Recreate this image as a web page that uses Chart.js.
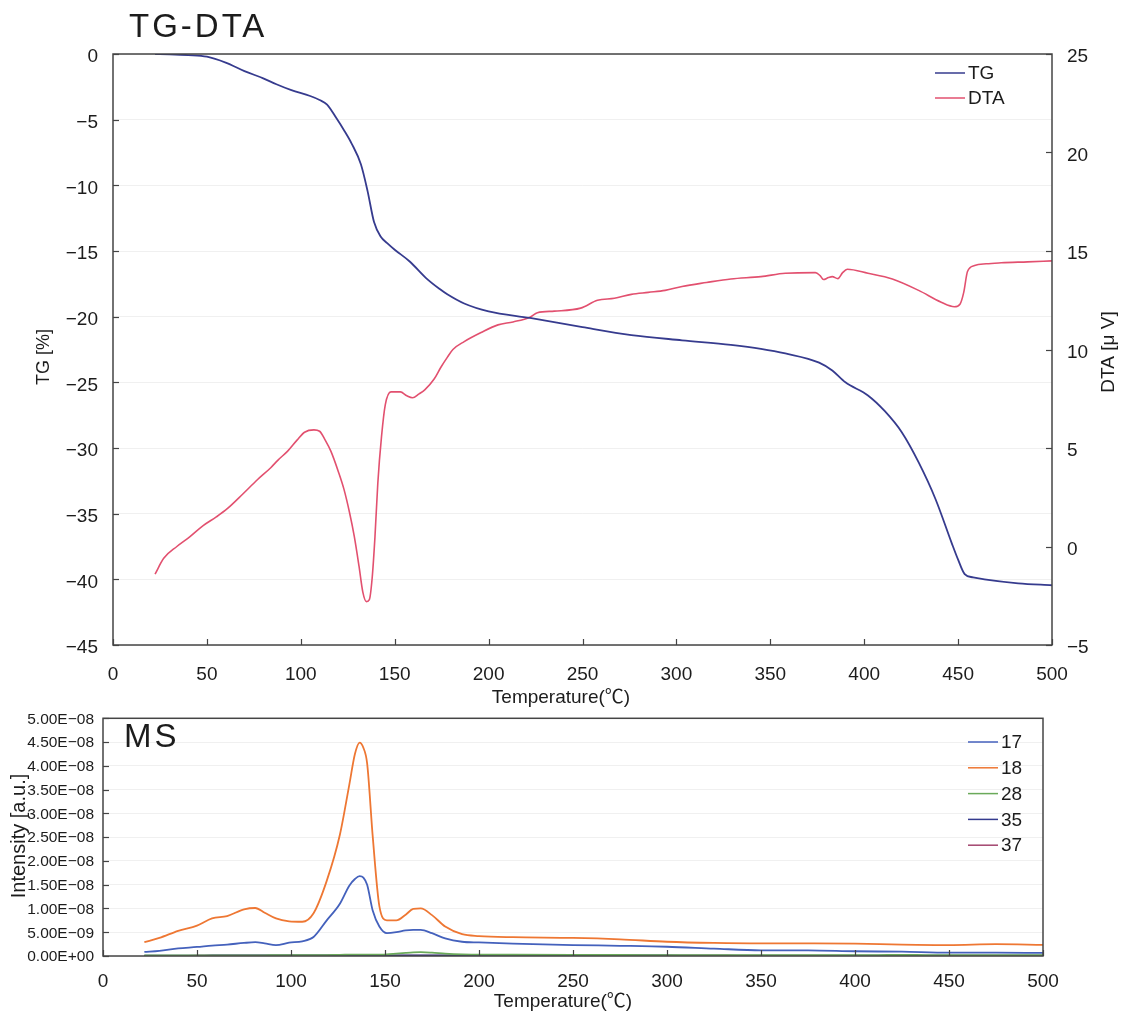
<!DOCTYPE html>
<html>
<head>
<meta charset="utf-8">
<title>TG-DTA / MS</title>
<script src="https://cdn.jsdelivr.net/npm/chart.js@4.4.1/dist/chart.umd.min.js"></script>
<style>
    body { margin: 0; background: #fff; }
    #wrap { position: relative; width: 1127px; height: 1021px; }
    canvas { position: absolute; left: 0; }
    #tgdta { top: 0; }
    #ms { top: 700px; }
</style>
</head>
<body>
<div id="wrap">
    <canvas id="tgdta" width="1127" height="715"></canvas>
    <canvas id="ms" width="1127" height="321"></canvas>
</div>
<script>
    // TG curve: temperature (°C) and mass change (%)
    const tgTemp = [22.4, 30, 40, 50, 60, 70, 80, 87, 95, 105, 110, 114, 119, 123, 127, 132, 135.5, 139, 142.5, 146,
        150, 158, 167, 174, 178, 187, 200, 222, 250, 276, 303, 329, 345, 358, 376, 383, 390, 402, 411, 420,
        429, 438, 446.5, 450, 453.5, 458, 464, 482, 500];
    const tgValue = [0, -0.02, -0.08, -0.2, -0.65, -1.3, -1.85, -2.3, -2.75, -3.2, -3.5, -3.85, -4.9, -5.8, -6.8, -8.4, -10.4, -12.8, -13.9, -14.4,
        -14.9, -15.8, -17.1, -17.9, -18.3, -19.0, -19.6, -20.1, -20.8, -21.4, -21.8, -22.15, -22.45, -22.8, -23.5, -24.1, -25.0, -26.0, -27.2, -28.8,
        -31.1, -33.9, -37.2, -38.5, -39.6, -39.85, -40.0, -40.3, -40.45];

    // DTA curve: temperature (°C) and signal (μV)
    const dtaTemp = [22.4, 27, 34, 41, 48, 55, 61, 69, 77, 84, 88, 93, 98, 102, 107, 110, 113, 116, 120, 123,
        126, 128.5, 131, 133, 135, 136.5, 138, 139.5, 141, 143, 145, 148, 153, 156.5, 159.5, 163, 166, 171, 174.6, 178,
        181, 187, 196, 205, 213, 222, 226, 235, 249, 258, 267, 276, 285, 294, 303, 316, 329, 345, 358, 374,
        376.5, 378.3, 381, 383, 386, 388.5, 391, 402, 415, 429, 441, 448, 451, 453, 455, 458.8, 465, 473, 487, 500];
    const dtaValue = [-1.4, -0.6, 0.0, 0.5, 1.06, 1.5, 1.93, 2.65, 3.4, 4.0, 4.4, 4.84, 5.4, 5.8, 5.92, 5.85, 5.4, 4.84, 3.8, 2.9,
        1.7, 0.5, -1.0, -2.3, -2.8, -2.7, -1.6, 0.5, 3.2, 5.6, 7.2, 7.85, 7.85, 7.65, 7.55, 7.75, 7.95, 8.5, 9.1, 9.6,
        10.0, 10.4, 10.86, 11.25, 11.4, 11.64, 11.87, 11.95, 12.1, 12.5, 12.6, 12.8, 12.9, 13.0, 13.2, 13.4, 13.58, 13.7, 13.87, 13.9,
        13.75, 13.55, 13.65, 13.7, 13.6, 13.9, 14.07, 13.87, 13.58, 13.0, 12.4, 12.17, 12.3, 12.9, 13.96, 14.26, 14.35, 14.4, 14.45, 14.5];

    // MS ion currents (x1e-9) for m/z 17, 18, 28, 35, 37
    const msTemp = [22, 30, 40, 50, 58, 66, 75, 81, 86, 92, 99, 106, 112, 119, 126, 131, 134, 136.5, 138.5, 140.5,
        143.5, 147, 151, 156, 161, 165, 169, 175, 182, 191, 200, 218, 250, 275, 300, 325, 350, 375, 400, 425,
        450, 475, 500];
    const ms17 = [0.85, 1.1, 1.6, 1.9, 2.2, 2.4, 2.75, 2.9, 2.65, 2.3, 2.8, 3.1, 4.0, 7.5, 11.0, 14.8, 16.2, 16.8, 16.5, 15.0,
        9.5, 6.2, 4.8, 5.0, 5.4, 5.5, 5.5, 4.8, 3.7, 3.0, 2.85, 2.6, 2.3, 2.15, 1.95, 1.55, 1.2, 1.2, 1.0, 0.9,
        0.7, 0.7, 0.65];
    const ms18 = [2.9, 3.8, 5.3, 6.4, 7.9, 8.4, 9.8, 10.1, 9.1, 7.9, 7.3, 7.2, 9.0, 15.8, 25.5, 36, 42.5, 44.9, 43.8, 40.5,
        25, 10.5, 7.5, 7.5, 8.7, 9.9, 10.0, 8.6, 6.2, 4.6, 4.2, 3.95, 3.8, 3.5, 3.0, 2.75, 2.65, 2.65, 2.6, 2.4,
        2.3, 2.5, 2.35];
    const ms28 = [0.12, 0.12, 0.13, 0.13, 0.14, 0.14, 0.15, 0.15, 0.15, 0.16, 0.16, 0.16, 0.17, 0.2, 0.25, 0.28, 0.3, 0.31, 0.3, 0.3,
        0.29, 0.3, 0.35, 0.5, 0.65, 0.75, 0.8, 0.7, 0.5, 0.35, 0.3, 0.26, 0.22, 0.21, 0.2, 0.2, 0.19, 0.2, 0.2, 0.21,
        0.2, 0.2, 0.19];
    const ms35 = [0.08, 0.08, 0.09, 0.09, 0.1, 0.1, 0.1, 0.11, 0.1, 0.1, 0.11, 0.11, 0.12, 0.14, 0.16, 0.18, 0.19, 0.2, 0.19, 0.18,
        0.15, 0.13, 0.12, 0.12, 0.12, 0.13, 0.13, 0.12, 0.12, 0.11, 0.11, 0.1, 0.1, 0.1, 0.1, 0.09, 0.09, 0.09, 0.09, 0.09,
        0.08, 0.08, 0.08];
    const ms37 = [0.04, 0.04, 0.04, 0.05, 0.05, 0.05, 0.05, 0.05, 0.05, 0.05, 0.05, 0.05, 0.06, 0.06, 0.07, 0.08, 0.08, 0.09, 0.08, 0.08,
        0.07, 0.06, 0.06, 0.06, 0.06, 0.06, 0.06, 0.06, 0.05, 0.05, 0.05, 0.05, 0.05, 0.05, 0.05, 0.05, 0.04, 0.04, 0.04, 0.04,
        0.04, 0.04, 0.04];
    const msLabels = ['17', '18', '28', '35', '37'];
    const msColors = ['#4461bc', '#ee7733', '#6aaa5a', '#343a8e', '#a3456e'];

    const FONT = "'Liberation Sans', 'Noto Sans CJK JP', sans-serif";
    const INK = '#1c1c1c';

    function toPoints(xs, ys, unit) {
        return xs.map((x, i) => ({ x: x, y: ys[i] * (unit || 1) }));
    }

    function minus(v) {
        return String(v).replace('-', '\u2212');
    }

    // 5.00E-08 style labels
    function sciLabel(v) {
        if (Math.abs(v) < 1e-15) return '0.00E+00';
        const parts = v.toExponential(2).split('e');
        const exp = parseInt(parts[1], 10);
        return parts[0] + 'E' + (exp < 0 ? '\u2212' : '+') + String(Math.abs(exp)).padStart(2, '0');
    }

    // box around the plot area with inward tick marks
    const framePlugin = {
        id: 'frame',
        afterDraw(chart) {
            const { ctx, chartArea: a } = chart;
            ctx.save();
            ctx.strokeStyle = '#444';
            ctx.lineWidth = 1.5;
            ctx.strokeRect(a.left, a.top, a.right - a.left, a.bottom - a.top);
            ctx.lineWidth = 1.2;
            Object.values(chart.scales).forEach(scale => {
                scale.ticks.forEach(t => {
                    const p = Math.round(scale.getPixelForValue(t.value)) + 0.5;
                    ctx.beginPath();
                    if (scale.position === 'bottom') {
                        ctx.moveTo(p, a.bottom); ctx.lineTo(p, a.bottom - 6);
                    } else if (scale.position === 'left') {
                        ctx.moveTo(a.left, p); ctx.lineTo(a.left + 6, p);
                    } else if (scale.position === 'right') {
                        ctx.moveTo(a.right, p); ctx.lineTo(a.right - 6, p);
                    }
                    ctx.stroke();
                });
            });
            ctx.restore();
        }
    };

    // legend drawn inside the plot, one row per dataset
    function legendPlugin(x, y, gap, len) {
        return {
            id: 'insideLegend',
            afterDraw(chart) {
                const ctx = chart.ctx;
                ctx.save();
                ctx.font = '19px ' + FONT;
                ctx.textBaseline = 'middle';
                chart.data.datasets.forEach((ds, i) => {
                    const yy = y + i * gap;
                    ctx.strokeStyle = ds.borderColor;
                    ctx.lineWidth = 1.5;
                    ctx.beginPath();
                    ctx.moveTo(x, yy); ctx.lineTo(x + len, yy);
                    ctx.stroke();
                    ctx.fillStyle = INK;
                    ctx.fillText(ds.label, x + len + 3, yy + 1);
                });
                ctx.restore();
            }
        };
    }

    // panel titles and axis titles
    function labelPlugin(items) {
        return {
            id: 'labels',
            afterDraw(chart) {
                const ctx = chart.ctx;
                items.forEach(it => {
                    ctx.save();
                    ctx.font = it.font;
                    ctx.fillStyle = INK;
                    ctx.textAlign = it.align || 'center';
                    ctx.textBaseline = it.baseline || 'middle';
                    if (it.spacing) ctx.letterSpacing = it.spacing;
                    ctx.translate(it.x, it.y);
                    if (it.rotate) ctx.rotate(it.rotate);
                    ctx.fillText(it.text, 0, 0);
                    ctx.restore();
                });
            }
        };
    }

    function drawTgDta() {
        const ctx = document.getElementById('tgdta').getContext('2d');
        const tickFont = { family: FONT, size: 19 };
        new Chart(ctx, {
            type: 'line',
            data: {
                datasets: [
                    {
                        label: 'TG',
                        data: toPoints(tgTemp, tgValue),
                        yAxisID: 'tg',
                        borderColor: '#363b8e',
                        borderWidth: 1.8,
                        pointRadius: 0,
                        cubicInterpolationMode: 'monotone'
                    },
                    {
                        label: 'DTA',
                        data: toPoints(dtaTemp, dtaValue),
                        yAxisID: 'dta',
                        borderColor: '#e2506f',
                        borderWidth: 1.6,
                        pointRadius: 0,
                        cubicInterpolationMode: 'monotone'
                    }
                ]
            },
            options: {
                responsive: false,
                animation: false,
                layout: { padding: { top: 54, left: 0, right: 0, bottom: 0 } },
                plugins: {
                    legend: { display: false },
                    tooltip: { enabled: false }
                },
                scales: {
                    x: {
                        type: 'linear', min: 0, max: 500,
                        ticks: { stepSize: 50, font: tickFont, color: INK, padding: 18, maxRotation: 0 },
                        grid: { display: false, drawTicks: false },
                        border: { display: false },
                        afterFit: s => { s.height = 70; }
                    },
                    tg: {
                        position: 'left', min: -45, max: 0,
                        ticks: { stepSize: 5, font: tickFont, color: INK, padding: 15, labelOffset: 3, callback: minus },
                        grid: { color: 'rgba(0,0,0,0.06)', drawTicks: false },
                        border: { display: false },
                        afterFit: s => { s.width = 113; }
                    },
                    dta: {
                        position: 'right', min: -5, max: 25,
                        ticks: { stepSize: 5, font: tickFont, color: INK, padding: 15, labelOffset: 3, callback: minus },
                        grid: { display: false, drawTicks: false },
                        border: { display: false },
                        afterFit: s => { s.width = 75; }
                    }
                }
            },
            plugins: [
                framePlugin,
                legendPlugin(935, 73, 25, 30),
                labelPlugin([
                    { text: 'TG-DTA', x: 129, y: 37, font: '33px ' + FONT, align: 'left', baseline: 'alphabetic', spacing: '3px' },
                    { text: 'TG [%]', x: 44, y: 357, font: '18px ' + FONT, rotate: -Math.PI / 2 },
                    { text: 'DTA [\u03bc V]', x: 1109, y: 352, font: '19px ' + FONT, rotate: -Math.PI / 2 },
                    { text: 'Temperature(\u2103)', x: 561, y: 698, font: '19px ' + FONT }
                ])
            ]
        });
    }

    function drawMs() {
        const ctx = document.getElementById('ms').getContext('2d');
        const series = [ms17, ms18, ms28, ms35, ms37];
        new Chart(ctx, {
            type: 'line',
            data: {
                datasets: series.map((values, i) => ({
                    label: msLabels[i],
                    data: toPoints(msTemp, values, 1e-9),
                    borderColor: msColors[i],
                    borderWidth: 1.8,
                    pointRadius: 0,
                    cubicInterpolationMode: 'monotone'
                }))
            },
            options: {
                responsive: false,
                animation: false,
                layout: { padding: { top: 12, left: 0, right: 84, bottom: 0 } },
                plugins: {
                    legend: { display: false },
                    tooltip: { enabled: false }
                },
                scales: {
                    x: {
                        type: 'linear', min: 0, max: 500,
                        ticks: { stepSize: 50, font: { family: FONT, size: 19 }, color: INK, padding: 14, maxRotation: 0 },
                        grid: { display: false, drawTicks: false },
                        border: { display: false },
                        afterFit: s => { s.height = 65; }
                    },
                    y: {
                        position: 'left', min: 0, max: 5e-8,
                        ticks: { stepSize: 5e-9, font: { family: FONT, size: 15.5 }, color: INK, padding: 9, labelOffset: 1, autoSkip: false, callback: sciLabel },
                        grid: { color: 'rgba(0,0,0,0.06)', drawTicks: false },
                        border: { display: false },
                        afterFit: s => { s.width = 103; }
                    }
                }
            },
            plugins: [
                framePlugin,
                legendPlugin(968, 42, 25.8, 30),
                labelPlugin([
                    { text: 'MS', x: 124, y: 47, font: '33px ' + FONT, align: 'left', baseline: 'alphabetic', spacing: '3px' },
                    { text: 'Intensity [a.u.]', x: 19, y: 136, font: '20px ' + FONT, rotate: -Math.PI / 2 },
                    { text: 'Temperature(\u2103)', x: 563, y: 302, font: '19px ' + FONT }
                ])
            ]
        });
    }

    window.addEventListener('load', function () {
        drawTgDta();
        drawMs();
    });
</script>
</body>
</html>
